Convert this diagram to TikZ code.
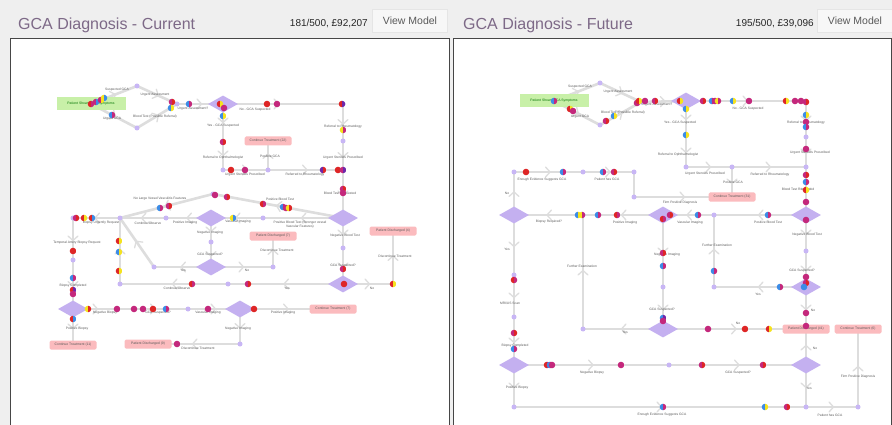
\documentclass[tikz,border=0pt]{standalone}
\usepackage{fontspec}
\setmainfont{Liberation Sans}
\usetikzlibrary{shapes.geometric,decorations.markings}
\definecolor{bgc}{RGB}{239,239,239}
\definecolor{edgec}{RGB}{221,221,221}
\definecolor{lav}{RGB}{200,182,245}
\definecolor{diac}{RGB}{196,176,240}
\definecolor{pinkc}{RGB}{251,187,190}
\definecolor{greenc}{RGB}{200,240,168}
\definecolor{titlec}{RGB}{125,105,135}
\definecolor{labc}{RGB}{90,90,90}
\definecolor{mg}{RGB}{196,40,124}
\definecolor{rd}{RGB}{222,38,38}
\definecolor{yl}{RGB}{245,226,30}
\definecolor{bl}{RGB}{60,140,230}
\definecolor{pu}{RGB}{110,40,170}
\definecolor{framec}{RGB}{70,70,70}
\pgfdeclarelayer{back}\pgfdeclarelayer{bg}\pgfsetlayers{back,bg,main}
\newcommand\gtok[4]{\begin{scope}\clip (#1,#2) circle (3.3pt);
 \fill[#3] (#1,#2) ++(-4pt,-4pt) rectangle ++(4pt,8pt);
 \fill[#4] (#1,#2) ++(0pt,-4pt) rectangle ++(4pt,8pt);\end{scope}}
\tikzset{
 jd/.style={circle, fill=lav, inner sep=0pt, minimum size=5pt},
 dm/.style={diamond, fill=diac, inner sep=0pt, minimum width=30pt, minimum height=17pt},
 pk/.style={rectangle, rounded corners=1.5pt, fill=pinkc, inner sep=0pt, minimum width=47pt, minimum height=9pt, font=\fontsize{3.4}{4}\selectfont, text=labc},
 gb/.style={rectangle, fill=greenc, inner sep=0pt, minimum width=69pt, minimum height=13pt, font=\fontsize{3.4}{4}\selectfont, text=green!45!black},
 lb/.style={font=\fontsize{3.3}{3.9}\selectfont, text=labc, inner sep=0pt, align=center},
 ed/.style={draw=edgec, line width=2.6pt},
 ar/.style={postaction={decorate, decoration={markings, mark=at position #1 with {\draw[draw=edgec, line width=1.3pt, line cap=round] (-3pt,-5pt) -- (1.5pt,0pt) -- (-3pt,5pt);}}}},
 ar/.default=0.5,
 btn/.style={rectangle, draw=black!10, fill=black!3, minimum width=75pt, minimum height=23pt, inner sep=0pt, font=\fontsize{10.5}{12}\selectfont, text=black!65},
 ttl/.style={anchor=base west, text=titlec, inner sep=0pt, font=\fontsize{16}{18}\selectfont},
 sc/.style={anchor=base east, inner sep=0pt, text=black!85, font=\fontsize{10}{12}\selectfont}
}
\begin{document}
\begin{tikzpicture}[x=1pt,y=-1pt]
\useasboundingbox (0,0) rectangle (892,425);
\begin{pgfonlayer}{back}
\fill[bgc] (0,0) rectangle (892,425);
\fill[white] (10,38) rectangle (449,425);
\fill[white] (453,38) rectangle (891,425);
\draw[framec, line width=0.9pt] (10,425) -- (10,38) -- (449,38) -- (449,425);
\draw[framec, line width=0.9pt] (453,425) -- (453,38) -- (891,38) -- (891,425);
\end{pgfonlayer}
% headers
\node[ttl] (t1) at (18,29.5) {GCA Diagnosis - Current};
\node[sc] (s1) at (368,26.5) {181/500, £92,207};
\node[btn] (b1) at (410,21) {View Model};
\node[ttl] (t2) at (463,29.5) {GCA Diagnosis - Future};
\node[sc] (s2) at (814,26.5) {195/500, £39,096};
\node[btn] (b2) at (855,21) {View Model};

% ================= LEFT PANEL =================
\node[gb] (Lg) at (91,104) {Patient Shows GCA Symptoms};
\node[jd] (La) at (137,86) {};
\node[jd] (Lb) at (137,128) {};
\node[jd] (Lc) at (177,104) {};
\node[dm] (Ld1) at (223,104) {};
\node[jd] (Le) at (343,104) {};
\node[jd] (Lf) at (343,141) {};
\node[jd] (Lh) at (343,170) {};
\coordinate (Li0) at (223,138);
\node[jd] (Li) at (223,170) {};
\node[jd] (Lj) at (268,170) {};
\node[pk] (Lp1) at (268,141) {Continue Treatment (22)};
\node[dm] (Ld2) at (343,218) {};
\node[jd] (Lk) at (213,194) {};
\node[jd] (Ll) at (263,218) {};
\node[dm] (Ld3) at (211,218) {};
\node[jd] (Lm) at (166,218) {};
\node[jd] (Ln) at (120,218) {};
\node[jd] (Lo) at (73,218) {};
\node[jd] (Lq) at (211,242) {};
\node[dm] (Ld4) at (211,267) {};
\node[jd] (Lr) at (154,267) {};
\node[jd] (Ls) at (273,267) {};
\node[pk] (Lp2) at (273,236) {Patient Discharged (7)};
\node[jd] (Lt) at (343,248) {};
\node[dm] (Ld5) at (343,284) {};
\node[jd] (Lu) at (393,284) {};
\node[pk] (Lp3) at (393,231) {Patient Discharged (4)};
\node[jd] (Lv) at (228,284) {};
\node[jd] (Lw) at (120,284) {};
\node[jd] (Lx) at (73,260) {};
\node[dm] (Ld6) at (73,309) {};
\node[jd] (Ly) at (188,309) {};
\node[dm] (Ld7) at (240,309) {};
\node[pk] (Lp4) at (333,309) {Continue Treatment (7)};
\node[pk] (Lp5) at (73,345) {Continue Treatment (11)};
\node[jd] (Lz) at (240,344) {};
\node[pk] (Lp6) at (148,344) {Patient Discharged (9)};

\begin{pgfonlayer}{bg}
\draw[ed,ar] (Lg.center) -- (La.center);
\draw[ed,ar] (La.center) -- (Lc.center);
\draw[ed,ar] (Lg.center) -- (Lb.center);
\draw[ed,ar] (Lb.center) -- (Lc.center);
\draw[ed,ar] (Lc.center) -- (Ld1.center);
\draw[ed,ar=0.45] (Ld1.center) -- (Le.center);
\draw[ed,ar] (Le.center) -- (Lf.center);
\draw[ed,ar] (Lf.center) -- (Lh.center);
\draw[ed,ar] (Ld1.center) -- (Li0);
\draw[ed,ar] (Li0) -- (Li.center);
\draw[ed,ar] (Li.center) -- (Lj.center);
\draw[ed,ar] (Lj.center) -- (Lh.center);
\draw[ed,ar] (Lj.center) -- (Lp1.center);
\draw[ed,ar] (Lh.center) -- (Ld2.center);
\draw[ed,ar] (Ld2.center) -- (Ll.center);
\draw[ed,ar] (Ll.center) -- (Ld3.center);
\draw[ed,ar] (Ld3.center) -- (Lm.center);
\draw[ed,ar] (Lm.center) -- (Ln.center);
\draw[ed,ar] (Ln.center) -- (Lo.center);
\draw[ed,ar] (Ld2.center) -- (Lk.center);
\draw[ed,ar] (Lk.center) -- (Ln.center);
\draw[ed,ar] (Ld2.center) -- (Lt.center);
\draw[ed,ar] (Lt.center) -- (Ld5.center);
\draw[ed,ar] (Ld5.center) -- (Lu.center);
\draw[ed,ar] (Lu.center) -- (Lp3.center);
\draw[ed,ar] (Ld5.center) -- (Lv.center);
\draw[ed,ar] (Lv.center) -- (Lw.center);
\draw[ed,ar] (Lw.center) -- (Ln.center);
\draw[ed,ar] (Ld3.center) -- (Lq.center);
\draw[ed,ar] (Lq.center) -- (Ld4.center);
\draw[ed,ar] (Ld4.center) -- (Lr.center);
\draw[ed,ar] (Lr.center) -- (Ln.center);
\draw[ed,ar] (Ld4.center) -- (Ls.center);
\draw[ed,ar] (Ls.center) -- (Lp2.center);
\draw[ed,ar] (Lo.center) -- (Lx.center);
\draw[ed,ar] (Lx.center) -- (Ld6.center);
\draw[ed,ar=0.2,ar=0.7] (Ld6.center) -- (Ly.center);
\draw[ed,ar] (Ly.center) -- (Ld7.center);
\draw[ed,ar] (Ld7.center) -- (Lp4.center);
\draw[ed,ar] (Ld7.center) -- (Lz.center);
\draw[ed,ar] (Lz.center) -- (Lp6.center);
\draw[ed,ar] (Ld6.center) -- (Lp5.center);
\end{pgfonlayer}

% left labels
\node[lb] (l1) at (117,90) {Suspected GCA};
\node[lb] (l2) at (155,95) {Urgent Assessment};
\node[lb] (l3) at (112,119) {Urgent GCA};
\node[lb] (l4) at (155,117) {Blood Test (Possible Referral)};
\node[lb] (l5) at (193,109) {Urgent Assessment?};
\node[lb] (l6) at (223,126) {Yes - GCA Suspected};
\node[lb] (l7) at (223,158) {Referral to Ophthalmologist};
\node[lb] (l8) at (255,110) {No - GCA Suspected};
\node[lb] (l9) at (343,127) {Referral to Rheumatology};
\node[lb] (l10) at (343,158) {Urgent Steroids Prescribed};
\node[lb] (l11) at (245,175) {Urgent Steroids Prescribed};
\node[lb] (l12) at (305,175) {Referred to Rheumatology};
\node[lb] (l13) at (270,156) {Positive GCA};
\node[lb] (l14) at (340,194) {Blood Test Requested};
\node[lb] (l15) at (280,199) {Positive Blood Test};
\node[lb] (l16) at (160,199) {No Large Vessel Vasculitis Features};
\node[lb] (l17) at (300,225) {Positive Blood Test (Stronger vessel\\Vascular Features)};
\node[lb] (l18) at (238,222) {Vascular Imaging};
\node[lb] (l19) at (185,223) {Positive Imaging};
\node[lb] (l20) at (148,223) {Continue/Observe};
\node[lb] (l21) at (101,223) {Biopsy Urgently Request};
\node[lb] (l22) at (77,243) {Temporal Artery Biopsy Request};
\node[lb] (l23) at (73,286) {Biopsy Completed};
\node[lb] (l24) at (210,233) {Negative Imaging};
\node[lb] (l25) at (210,255) {GCA Suspected?};
\node[lb] (l26) at (183,270) {Yes};
\node[lb] (l27) at (247,270) {No};
\node[lb] (l28) at (345,236) {Negative Blood Test};
\node[lb] (l29) at (343,266) {GCA Suspected?};
\node[lb] (l30) at (277,250) {Discontinue Treatment};
\node[lb] (l31) at (395,256) {Discontinue Treatment};
\node[lb] (l32) at (372,288) {No};
\node[lb] (l33) at (287,288) {Yes};
\node[lb] (l34) at (177,288) {Continue/Observe};
\node[lb] (l35) at (105,313) {Negative Biopsy};
\node[lb] (l36) at (158,313) {GCA Suspected?};
\node[lb] (l37) at (208,313) {Vascular Imaging};
\node[lb] (l38) at (283,313) {Positive Imaging};
\node[lb] (l39) at (77,329) {Positive Biopsy};
\node[lb] (l40) at (238,329) {Negative Imaging};
\node[lb] (l41) at (198,348) {Discontinue Treatment};

% left tokens
\gtok{91}{104}{rd}{mg}\gtok{96}{102}{mg}{bl}\gtok{101}{100}{mg}{yl}\gtok{104}{98}{yl}{bl}
\gtok{112}{115}{bl}{mg}\gtok{172}{102}{mg}{rd}\gtok{171}{108}{bl}{yl}\gtok{189}{104}{bl}{mg}
\gtok{220}{104}{rd}{yl}\gtok{224}{108}{mg}{mg}\gtok{223}{116}{bl}{yl}\gtok{223}{142}{mg}{rd}
\gtok{231}{170}{rd}{rd}\gtok{245}{170}{mg}{mg}\gtok{267}{104}{rd}{rd}\gtok{277}{104}{mg}{mg}
\gtok{342}{104}{rd}{pu}\gtok{343}{130}{yl}{mg}\gtok{323}{170}{pu}{rd}\gtok{338}{170}{rd}{rd}
\gtok{343}{170}{mg}{pu}\gtok{343}{189}{mg}{rd}\gtok{343}{193}{mg}{mg}\gtok{215}{195}{mg}{mg}
\gtok{227}{197}{mg}{rd}\gtok{76}{218}{mg}{rd}\gtok{84}{218}{rd}{yl}\gtok{92}{218}{rd}{bl}
\gtok{73}{251}{rd}{rd}\gtok{73}{278}{bl}{mg}\gtok{73}{290}{rd}{pu}\gtok{73}{294}{mg}{mg}
\gtok{119}{241}{rd}{yl}\gtok{119}{252}{bl}{yl}\gtok{119}{271}{rd}{yl}\gtok{160}{208}{bl}{mg}
\gtok{169}{206}{mg}{rd}\gtok{233}{218}{yl}{bl}\gtok{192}{284}{rd}{mg}\gtok{248}{284}{mg}{rd}
\gtok{263}{204}{rd}{mg}\gtok{283}{207}{bl}{mg}\gtok{286}{208}{mg}{mg}\gtok{289}{208}{yl}{rd}
\gtok{343}{269}{mg}{rd}\gtok{344}{284}{rd}{rd}\gtok{393}{284}{rd}{yl}\gtok{88}{309}{yl}{rd}
\gtok{117}{309}{mg}{mg}\gtok{134}{309}{mg}{mg}\gtok{143}{309}{mg}{mg}\gtok{153}{309}{rd}{rd}
\gtok{166}{309}{bl}{mg}\gtok{208}{309}{mg}{mg}\gtok{254}{309}{rd}{rd}\gtok{73}{319}{rd}{bl}
\gtok{177}{344}{mg}{mg}

% ================= RIGHT PANEL =================
\node[gb] (Rg) at (554,101) {Patient Shows GCA Symptoms};
\node[jd] (Ra) at (600,83) {};
\node[jd] (Rb) at (600,125) {};
\node[jd] (Rc) at (641,102) {};
\node[dm] (Rd1) at (686,101) {};
\node[jd] (Re) at (806,101) {};
\node[jd] (Rf) at (806,137) {};
\node[jd] (Rh) at (806,167) {};
\coordinate (Ri0) at (686,135);
\node[jd] (Ri) at (686,167) {};
\node[jd] (Rj) at (732,167) {};
\node[pk] (Rp1) at (732,197) {Continue Treatment (31)};
\node[dm] (Rd2) at (806,215) {};
\node[jd] (Rk) at (714,215) {};
\node[dm] (Rd3) at (663,215) {};
\node[jd] (Rl) at (583,215) {};
\node[dm] (Rd4) at (514,215) {};
\node[jd] (Rm) at (514,172) {};
\node[jd] (Rn) at (583,172) {};
\node[jd] (Ro) at (634,172) {};
\node[jd] (Rq) at (634,197) {};
\node[jd] (Rr) at (806,251) {};
\node[dm] (Rd5) at (806,287) {};
\node[jd] (Rs) at (714,287) {};
\node[jd] (Rt) at (663,287) {};
\node[dm] (Rd6) at (663,329) {};
\node[jd] (Ru) at (583,329) {};
\node[pk] (Rp2) at (806,329) {Patient Discharged (41)};
\node[pk] (Rp3) at (858,329) {Continue Treatment (6)};
\node[jd] (Rv) at (514,275) {};
\node[jd] (Rw) at (514,317) {};
\node[dm] (Rd7) at (514,365) {};
\node[jd] (Rx) at (669,365) {};
\node[dm] (Rd8) at (806,365) {};
\node[jd] (Ry) at (514,407) {};
\node[jd] (Rz) at (806,407) {};
\node[jd] (Rzz) at (858,407) {};

\begin{pgfonlayer}{bg}
\draw[ed,ar] (Rg.center) -- (Ra.center);
\draw[ed,ar] (Ra.center) -- (Rc.center);
\draw[ed,ar] (Rg.center) -- (Rb.center);
\draw[ed,ar] (Rb.center) -- (Rc.center);
\draw[ed,ar] (Rc.center) -- (Rd1.center);
\draw[ed,ar] (Rd1.center) -- (Re.center);
\draw[ed,ar] (Re.center) -- (Rf.center);
\draw[ed,ar] (Rf.center) -- (Rh.center);
\draw[ed,ar] (Rd1.center) -- (Ri0);
\draw[ed,ar] (Ri0) -- (Ri.center);
\draw[ed,ar] (Ri.center) -- (Rj.center);
\draw[ed,ar] (Rj.center) -- (Rh.center);
\draw[ed,ar] (Rj.center) -- (Rp1.center);
\draw[ed,ar] (Rh.center) -- (Rd2.center);
\draw[ed,ar] (Rd2.center) -- (Rk.center);
\draw[ed,ar] (Rk.center) -- (Rd3.center);
\draw[ed,ar] (Rd3.center) -- (Rl.center);
\draw[ed,ar] (Rl.center) -- (Rd4.center);
\draw[ed,ar] (Rd4.center) -- (Rm.center);
\draw[ed,ar] (Rm.center) -- (Rn.center);
\draw[ed,ar] (Rn.center) -- (Ro.center);
\draw[ed] (Ro.center) -- (Rq.center);
\draw[ed,ar] (Rq.center) -- (Rp1.center);
\draw[ed,ar] (Rd2.center) -- (Rr.center);
\draw[ed,ar] (Rr.center) -- (Rd5.center);
\draw[ed,ar] (Rd5.center) -- (Rs.center);
\draw[ed,ar] (Rs.center) -- (Rk.center);
\draw[ed,ar] (Rd5.center) -- (Rp2.center);
\draw[ed,ar] (Rd3.center) -- (Rt.center);
\draw[ed,ar] (Rt.center) -- (Rd6.center);
\draw[ed,ar] (Rd6.center) -- (Ru.center);
\draw[ed,ar] (Ru.center) -- (Rl.center);
\draw[ed,ar] (Rd6.center) -- (Rp2.center);
\draw[ed,ar] (Rd4.center) -- (Rv.center);
\draw[ed,ar] (Rv.center) -- (Rw.center);
\draw[ed,ar] (Rw.center) -- (Rd7.center);
\draw[ed,ar] (Rd7.center) -- (Rx.center);
\draw[ed,ar] (Rx.center) -- (Rd8.center);
\draw[ed,ar] (Rd8.center) -- (Rp2.center);
\draw[ed,ar] (Rd8.center) -- (Rz.center);
\draw[ed,ar] (Rd7.center) -- (Ry.center);
\draw[ed,ar] (Ry.center) -- (Rz.center);
\draw[ed,ar] (Rz.center) -- (Rzz.center);
\draw[ed,ar] (Rzz.center) -- (Rp3.center);
\end{pgfonlayer}

% right labels
\node[lb] (r1) at (580,87) {Suspected GCA};
\node[lb] (r2) at (618,92) {Urgent Assessment};
\node[lb] (r3) at (580,117) {Urgent GCA};
\node[lb] (r4) at (623,113) {Blood Test (Possible Referral)};
\node[lb] (r5) at (657,105) {Urgent Assessment?};
\node[lb] (r6) at (680,123) {Yes - GCA Suspected};
\node[lb] (r7) at (678,155) {Referral to Ophthalmologist};
\node[lb] (r8) at (748,109) {No - GCA Suspected};
\node[lb] (r9) at (806,123) {Referral to Rheumatology};
\node[lb] (r10) at (810,153) {Urgent Steroids Prescribed};
\node[lb] (r11) at (705,174) {Urgent Steroids Prescribed};
\node[lb] (r12) at (770,175) {Referred to Rheumatology};
\node[lb] (r13) at (733,182) {Positive GCA};
\node[lb] (r14) at (542,180) {Enough Evidence Suggests GCA};
\node[lb] (r15) at (607,179) {Patient has GCA};
\node[lb] (r16) at (507,193) {No};
\node[lb] (r17) at (680,203) {Firm Positive Diagnosis};
\node[lb] (r18) at (798,190) {Blood Test Requested};
\node[lb] (r19) at (549,222) {Biopsy Required?};
\node[lb] (r20) at (625,223) {Positive Imaging};
\node[lb] (r21) at (690,223) {Vascular Imaging};
\node[lb] (r22) at (768,222) {Positive Blood Test};
\node[lb] (r23) at (507,249) {Yes};
\node[lb] (r24) at (510,303) {MRI/US Scan};
\node[lb] (r25) at (582,266) {Further Examination};
\node[lb] (r26) at (717,245) {Further Examination};
\node[lb] (r27) at (667,255) {Negative Imaging};
\node[lb] (r28) at (662,310) {GCA Suspected?};
\node[lb] (r29) at (807,235) {Negative Blood Test};
\node[lb] (r30) at (802,271) {GCA Suspected?};
\node[lb] (r31) at (758,294) {Yes};
\node[lb] (r32) at (813,310) {No};
\node[lb] (r33) at (625,332) {Yes};
\node[lb] (r34) at (738,323) {No};
\node[lb] (r35) at (515,346) {Biopsy Completed};
\node[lb] (r36) at (592,373) {Negative Biopsy};
\node[lb] (r37) at (738,373) {GCA Suspected?};
\node[lb] (r38) at (815,348) {No};
\node[lb] (r39) at (809,388) {Yes};
\node[lb] (r40) at (517,388) {Positive Biopsy};
\node[lb] (r41) at (662,415) {Enough Evidence Suggests GCA};
\node[lb] (r42) at (830,415) {Patient has GCA};
\node[lb] (r43) at (858,377) {Firm Positive Diagnosis};

% right tokens
\gtok{554}{101}{bl}{mg}\gtok{570}{109}{rd}{yl}\gtok{573}{111}{mg}{mg}
\gtok{606}{121}{mg}{rd}\gtok{614}{116}{bl}{yl}
\gtok{637}{103}{mg}{mg}\gtok{639}{101}{rd}{yl}\gtok{645}{101}{mg}{mg}\gtok{655}{101}{mg}{rd}
\gtok{680}{101}{rd}{yl}\gtok{686}{109}{bl}{yl}\gtok{686}{135}{bl}{yl}
\gtok{526}{172}{rd}{rd}\gtok{563}{172}{bl}{mg}\gtok{603}{172}{bl}{mg}\gtok{614}{172}{mg}{rd}
\gtok{703}{101}{mg}{rd}\gtok{712}{101}{bl}{mg}\gtok{715}{101}{mg}{mg}\gtok{718}{101}{yl}{mg}
\gtok{733}{101}{bl}{yl}\gtok{749}{101}{mg}{mg}\gtok{786}{101}{rd}{yl}\gtok{795}{101}{mg}{mg}
\gtok{801}{101}{mg}{mg}\gtok{806}{102}{mg}{rd}\gtok{806}{115}{bl}{yl}\gtok{806}{122}{mg}{mg}
\gtok{806}{127}{bl}{mg}\gtok{806}{149}{mg}{mg}\gtok{806}{175}{mg}{rd}\gtok{806}{182}{bl}{mg}
\gtok{806}{190}{rd}{yl}\gtok{806}{202}{mg}{mg}
\gtok{578}{215}{bl}{yl}\gtok{582}{215}{yl}{mg}\gtok{598}{215}{bl}{mg}\gtok{617}{215}{rd}{mg}
\gtok{670}{215}{mg}{rd}\gtok{663}{219}{rd}{mg}\gtok{663}{253}{mg}{rd}\gtok{663}{266}{bl}{mg}
\gtok{663}{318}{bl}{pu}\gtok{663}{321}{mg}{mg}\gtok{514}{280}{rd}{mg}
\gtok{698}{215}{bl}{mg}\gtok{768}{215}{bl}{mg}\gtok{806}{220}{mg}{mg}\gtok{714}{271}{bl}{mg}
\gtok{780}{287}{bl}{mg}\gtok{806}{277}{mg}{mg}\gtok{806}{283}{mg}{rd}\gtok{804}{287}{bl}{bl}
\gtok{806}{313}{mg}{mg}\gtok{806}{326}{mg}{mg}
\gtok{708}{329}{mg}{mg}\gtok{745}{329}{rd}{rd}\gtok{769}{329}{rd}{yl}
\gtok{514}{333}{mg}{rd}\gtok{514}{349}{bl}{mg}
\gtok{547}{365}{rd}{mg}\gtok{550}{365}{bl}{mg}\gtok{552}{365}{mg}{mg}\gtok{621}{365}{mg}{mg}
\gtok{702}{365}{mg}{rd}\gtok{763}{365}{mg}{rd}
\gtok{663}{407}{bl}{mg}\gtok{765}{407}{bl}{yl}\gtok{787}{407}{mg}{rd}
\end{tikzpicture}
\end{document}
